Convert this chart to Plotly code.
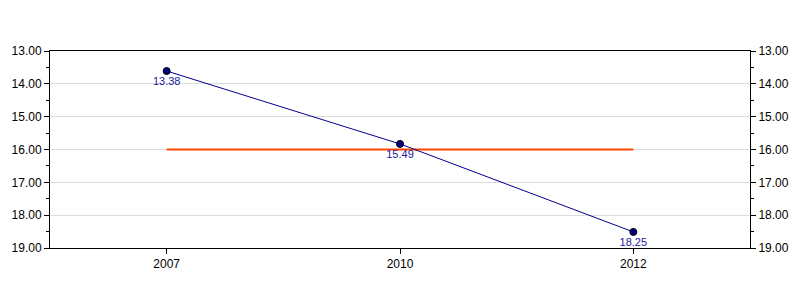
import plotly.graph_objects as go

years = ["2007", "2010", "2012"]
values = [13.61, 15.83, 18.51]
labels = ["13.38", "15.49", "18.25"]
ref_values = [16.0, 16.0, 16.0]
y_ticks = [13, 14, 15, 16, 17, 18, 19]
y_tick_text = ["13.00", "14.00", "15.00", "16.00", "17.00", "18.00", "19.00"]

font = dict(family="Liberation Sans, Arial, sans-serif", size=12, color="#000000")

fig = go.Figure()
fig.add_trace(go.Scatter(
    x=years, y=ref_values, mode="lines",
    line=dict(color="#FF4500", width=2), hoverinfo="skip", showlegend=False))
fig.add_trace(go.Scatter(
    x=years, y=values, mode="lines+markers+text",
    text=labels, textposition="bottom center",
    textfont=dict(family=font["family"], size=11, color="#1a1aa0"),
    line=dict(color="#00008B", width=1),
    marker=dict(size=7, color="#000080", line=dict(color="#000000", width=1)),
    showlegend=False))
fig.add_trace(go.Scatter(
    x=years, y=values, yaxis="y2", mode="markers",
    marker=dict(opacity=0), hoverinfo="skip", showlegend=False))

yaxis_common = dict(
    range=[19, 13], tickvals=y_ticks, ticktext=y_tick_text,
    ticks="outside", ticklen=5, tickcolor="#000", showline=True,
    linecolor="#000", linewidth=1, zeroline=False, tickfont=font,
    minor=dict(ticks="outside", ticklen=3, tickcolor="#000", dtick=0.5, tick0=13, showgrid=False),
)

fig.update_layout(
    width=800, height=300,
    margin=dict(l=50, r=50, t=51, b=52),
    paper_bgcolor="white", plot_bgcolor="white",
    font=font,
    xaxis=dict(type="category", range=[-0.5, 2.5], ticks="outside", ticklen=5,
               tickcolor="#000", showline=True, linecolor="#000", linewidth=1,
               mirror=True, showgrid=False, tickfont=font),
    yaxis=dict(**yaxis_common, side="left", showgrid=True, gridcolor="#dcdcdc", gridwidth=1),
    yaxis2=dict(**yaxis_common, side="right", overlaying="y", showgrid=False),
)
fig.write_html("out.html")
